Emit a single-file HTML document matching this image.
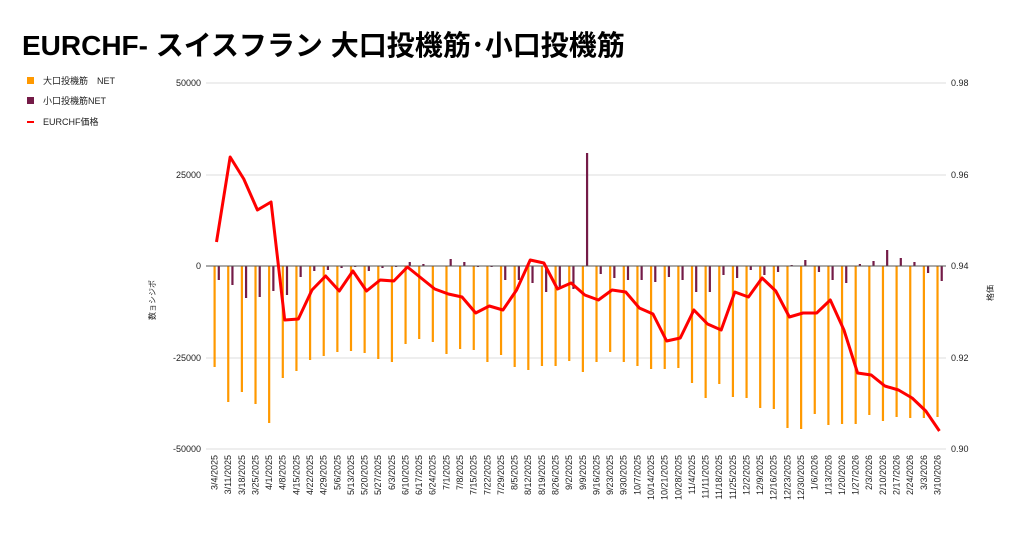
<!DOCTYPE html>
<html><head><meta charset="utf-8"><style>
body{margin:0;background:#fff;width:1024px;height:532px;overflow:hidden;font-family:"Liberation Sans","Noto Sans CJK JP",sans-serif}
</style></head><body>
<svg id="s" width="1024" height="532" xmlns="http://www.w3.org/2000/svg" font-family="Liberation Sans, Noto Sans CJK JP, sans-serif">
<text x="22" y="55" font-size="28" font-weight="bold" fill="#000">EURCHF- スイスフラン 大口投機筋･小口投機筋</text>
<rect x="27" y="77" width="7" height="7" fill="#ff9900"/><text x="43" y="84" font-size="9" fill="#222">大口投機筋　NET</text>
<rect x="27" y="97" width="7" height="7" fill="#741b47"/><text x="43" y="104" font-size="9" fill="#222">小口投機筋NET</text>
<rect x="27" y="121" width="7" height="2" fill="#ff0000"/><text x="43" y="125" font-size="9" fill="#222">EURCHF価格</text>
<g id="g"></g>
<text transform="translate(155,300) rotate(-90)" font-size="8" text-anchor="middle" fill="#222">数ョシジポ</text>
<text transform="translate(993,293) rotate(-90)" font-size="8" text-anchor="middle" fill="#222">格価</text>
</svg>
<script>
var g=document.getElementById('g'),h='';
var ys=[83,175,266,358,449],lv=['50000','25000','0','-25000','-50000'],rv=['0.98','0.96','0.94','0.92','0.90'];
for(var i=0;i<5;i++){h+='<line x1="206" x2="946" y1="'+ys[i]+'" y2="'+ys[i]+'" stroke="#ddd"/>';
h+='<text x="201" y="'+(ys[i]+3)+'" font-size="9" text-anchor="end" fill="#222">'+lv[i]+'</text>';
h+='<text x="951" y="'+(ys[i]+3)+'" font-size="9" fill="#222">'+rv[i]+'</text>';}
var big=[367,402,392,404,423,378,371,360,356,352,351,353,359,362,344,339,342,354,349,350,362,355,367,370,366,366,361,372,362,352,362,366,369,369,368,383,398,384,397,398,408,409,428,429,414,425,424,424,415,421,417,418,418,417];
var sm=[280,285,298,297,291,295,277,271,270,268,267,271,268,267,262,264,266,259,262,267,267,280,280,283,292,288,289,153,274,278,280,280,282,277,280,292,292,275,278,270,275,272,265,260,272,280,283,264,261,250,258,262,273,281];
var red=[242,157,179,210,202,320,319,290,276,291,271,291,280,281,267,278,289,294,297,313,306,310,290,260,263,289,283,295,300,290,292,308,314,341,338,310,324,330,292,297,278,291,317,313,313,300,330,373,375,386,390,398,411,431];
var d=new Date(2025,2,4),pts=[];
for(var i=0;i<54;i++){var c=216.5+13.64*i;
h+='<rect x="'+(c-3)+'" y="266" width="2.2" height="'+(big[i]-266)+'" fill="#ff9900"/>';
var t=Math.min(sm[i],266),b=Math.max(sm[i],266);
h+='<rect x="'+(c+1.2)+'" y="'+t+'" width="2.2" height="'+(b-t)+'" fill="#741b47"/>';
var lab=(d.getMonth()+1)+'/'+d.getDate()+'/'+d.getFullYear();
h+='<text transform="translate('+(c+1)+',455) rotate(-90)" font-size="9" text-anchor="end" fill="#222">'+lab+'</text>';
d.setDate(d.getDate()+7);pts.push(c+','+red[i]);}
h+='<line x1="206" x2="946" y1="266" y2="266" stroke="#555"/>';
h+='<polyline points="'+pts.join(' ')+'" fill="none" stroke="#ff0000" stroke-width="3" stroke-linejoin="round"/>';
g.innerHTML=h;
</script>
</body></html>
